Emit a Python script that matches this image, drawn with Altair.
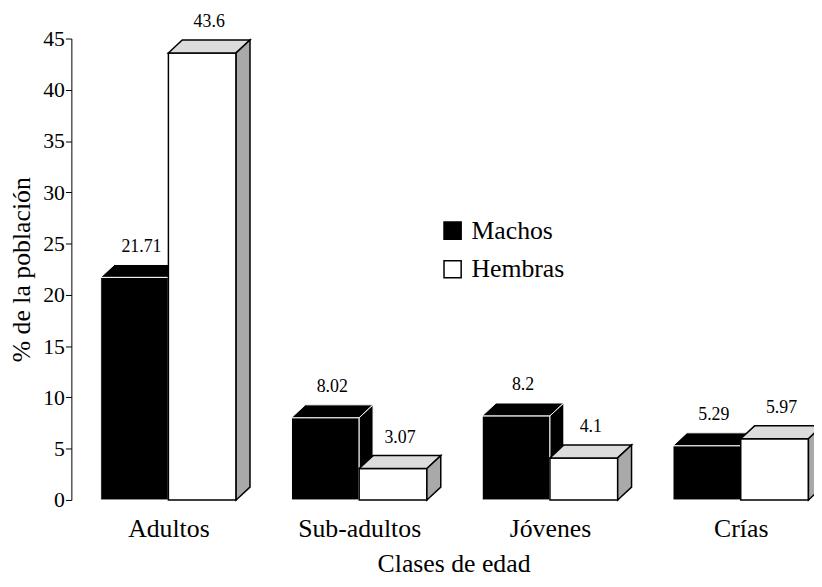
import altair as alt
import pandas as pd

categories = ["Adultos", "Sub-adultos", "Jóvenes", "Crías"]
series_names = ["Machos", "Hembras"]
machos = [21.71, 8.02, 8.2, 5.29]
hembras = [43.6, 3.07, 4.1, 5.97]
machos_text = ["21.71", "8.02", "8.2", "5.29"]
hembras_text = ["43.6", "3.07", "4.1", "5.97"]

# style constants (3D look)
BAR_W = 0.355      # bar width in category units
DX = 0.0727        # depth, horizontal (category units)
DY = 1.255         # depth, vertical (% units)
FONT = "Liberation Serif"

fronts, tops, sides, labels = [], [], [], []
for si, (name, vals, texts) in enumerate(zip(series_names, [machos, hembras], [machos_text, hembras_text])):
    for i, v in enumerate(vals):
        x0 = i - BAR_W if si == 0 else i
        x1 = x0 + BAR_W
        fronts.append(dict(series=name, x0=x0, x1=x1, lo=0.0, v=v))
        fid = f"{name}-{i}"
        for x, lo, hi in [(x0, v, v), (x0 + DX, v, v + DY), (x1, v, v + DY), (x1 + DX, v + DY, v + DY)]:
            tops.append(dict(series=name, face=fid, x=x, lo=lo, hi=hi))
        for x, lo, hi in [(x1, 0.0, v), (x1 + DX, DY, v + DY)]:
            sides.append(dict(series=name, face=fid, x=x, lo=lo, hi=hi))
        labels.append(dict(series=name, x=(x0 + x1) / 2 + DX / 2, v=v, t=texts[i]))

fronts = pd.DataFrame(fronts)
tops = pd.DataFrame(tops)
sides = pd.DataFrame(sides)
labels = pd.DataFrame(labels)

label_expr = "[" + ",".join(f"'{c}'" for c in categories) + "][datum.value]"
xscale = alt.Scale(domain=[-0.5086, 3.384], nice=False, zero=False)
yscale = alt.Scale(domain=[0, 45], nice=False)
xaxis = alt.Axis(values=[0, 1, 2, 3], labelExpr=label_expr, domain=False, ticks=False, grid=False,
                 labelFont=FONT, labelFontSize=26, labelPadding=16, labelColor="black",
                 title="Clases de edad", titleFont=FONT, titleFontSize=26, titleFontWeight="normal",
                 titlePadding=9, titleColor="black", titleX=386)
yaxis = alt.Axis(values=list(range(0, 50, 5)), grid=False, domainColor="black", tickColor="black",
                 tickSize=6, labelFont=FONT, labelFontSize=22, labelPadding=1, labelColor="black",
                 title="% de la población", titleFont=FONT, titleFontSize=26, titleFontWeight="normal",
                 titlePadding=8, titleColor="black")

X = lambda f: alt.X(f, type="quantitative", scale=xscale, axis=xaxis)
Y = lambda f: alt.Y(f, type="quantitative", scale=yscale, axis=yaxis)

color = alt.Color("series:N", scale=alt.Scale(domain=series_names, range=["black", "white"]),
                  legend=alt.Legend(title=None, orient="none", legendX=372, legendY=181,
                                    symbolType="square", symbolSize=300, symbolStrokeColor="black",
                                    symbolStrokeWidth=1.5, labelFont=FONT, labelFontSize=26,
                                    labelColor="black", rowPadding=13, labelOffset=6, padding=0))

styles = {
    "Machos": dict(stroke="white", sw=1.0, top="black", side="black"),
    "Hembras": dict(stroke="black", sw=1.5, top="#dcdcdc", side="#a9a9a9"),
}

layers = []
for name in series_names:
    st = styles[name]
    layers.append(
        alt.Chart(fronts[fronts.series == name]).mark_rect(stroke=st["stroke"], strokeWidth=st["sw"]).encode(
            x=X("x0"), x2="x1", y=Y("lo"), y2="v", color=color)
    )
    layers.append(
        alt.Chart(tops[tops.series == name]).mark_area(orient="vertical", fill=st["top"], stroke=st["stroke"],
                                                      strokeWidth=st["sw"], opacity=1).encode(
            x=X("x"), y=Y("lo"), y2="hi", detail="face:N")
    )
    layers.append(
        alt.Chart(sides[sides.series == name]).mark_area(orient="vertical", fill=st["side"], stroke=st["stroke"],
                                                       strokeWidth=st["sw"], opacity=1).encode(
            x=X("x"), y=Y("lo"), y2="hi", detail="face:N")
    )

layers.append(
    alt.Chart(labels).mark_text(font=FONT, fontSize=18, dy=-31, baseline="middle", align="center",
                                color="black").encode(x=X("x"), y=Y("v"), text="t:N")
)

chart = alt.layer(*layers).properties(
    width=750, height=466,
    padding={"left": 64, "top": 28, "right": 0, "bottom": 77},
    autosize=alt.AutoSizeParams(type="none"),
).configure(font=FONT, background="white").configure_view(stroke="transparent", strokeWidth=0)

chart.save("out.html", embed_options={"renderer": "svg", "actions": False})
